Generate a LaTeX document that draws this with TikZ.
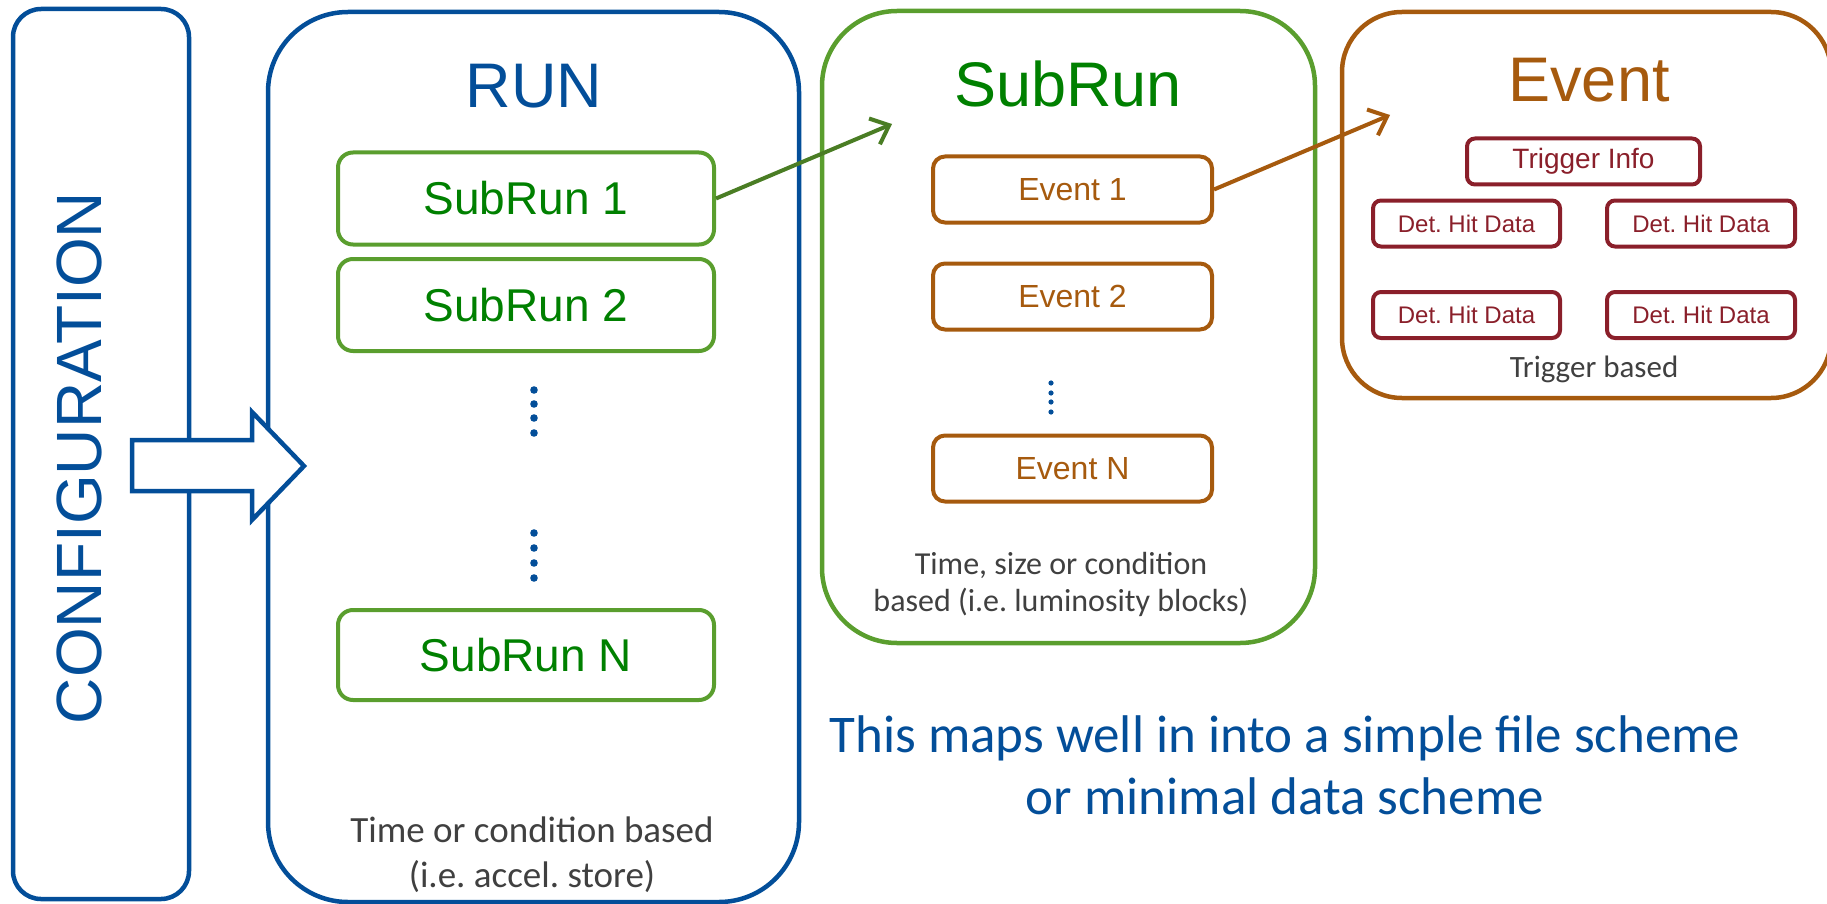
\documentclass[tikz,border=0pt]{standalone}
\usepackage{fontspec}
\setmainfont{Liberation Sans}
\newfontfamily\calibri{Carlito}
\usetikzlibrary{arrows.meta}
\frenchspacing

\definecolor{runblue}{HTML}{034E99}
\definecolor{subgreen}{HTML}{5A9E2E}
\definecolor{arrowgreen}{HTML}{4A7D24}
\definecolor{textgreen}{HTML}{008000}
\definecolor{evbrown}{HTML}{A65A0E}
\definecolor{hitred}{HTML}{8A1F2A}
\definecolor{capgray}{HTML}{404040}

\tikzset{
  bigbox/.style={draw, line width=4.5pt, rounded corners=#1, inner sep=0pt},
  title/.style={anchor=base, font=\fontsize{63}{63}\selectfont},
  subbox/.style={draw=subgreen, line width=4pt, rounded corners=15pt,
    minimum width=376pt, minimum height=92pt, text=textgreen,
    font=\fontsize{46}{46}\selectfont},
  evbox/.style={draw=evbrown, line width=4pt, rounded corners=12pt,
    minimum width=279pt, minimum height=66pt, text=evbrown,
    font=\fontsize{32}{32}\selectfont},
  hitbox/.style={draw=hitred, line width=4pt, rounded corners=8pt,
    minimum height=46pt, text=hitred, font=\fontsize{24}{24}\selectfont},
  caption/.style={text=capgray, align=center},
  link/.style={line width=4pt, -{Straight Barb[length=16pt,width=28pt]}}
}

\begin{document}
\begin{tikzpicture}[x=1pt,y=-1pt]
\useasboundingbox (0,0) rectangle (1827,904);

% configuration
\node[bigbox=28pt, draw=runblue, minimum width=176pt, minimum height=890pt] (config) at (101,454) {};
\node[rotate=90, text=runblue, font=\fontsize{64}{64}\selectfont] (configtext) at (79,458) {CONFIGURATION};

% run
\node[bigbox=80pt, draw=runblue, minimum width=531pt, minimum height=890pt] (run) at (533.5,457) {};
\node[title, text=runblue] (runtitle) at (534,108) {RUN};
\node[subbox] (sr1) at (526,198.5) {SubRun 1};
\node[subbox] (sr2) at (526,305) {SubRun 2};
\node[subbox, minimum height=90pt] (srn) at (526,655) {SubRun N};
\foreach \y in {390,404,418,433,533,548,563,578}
  \fill[runblue] (534,\y) circle (3.8pt);
\node[caption, font=\calibri\fontsize{37}{45}\selectfont] (runcap) at (532,855)
  {Time or condition based\\(i.e. accel. store)};

% configuration arrow
\draw[runblue, line width=4.5pt, fill=white, line join=miter]
  (132,440) -- (252,440) -- (252,412) -- (304,466) -- (252,520) -- (252,491) -- (132,491) -- cycle;

% subrun
\node[bigbox=75pt, draw=subgreen, minimum width=493pt, minimum height=632pt] (subrun) at (1068.5,327) {};
\node[title, text=textgreen] (subtitle) at (1068,107) {SubRun};
\node[evbox] (ev1) at (1072.5,189.5) {Event 1};
\node[evbox] (ev2) at (1072.5,296.5) {Event 2};
\node[evbox] (evn) at (1072.5,468.5) {Event N};
\foreach \y in {383,393,402,412}
  \fill[runblue] (1051,\y) circle (2.6pt);
\node[caption, font=\calibri\fontsize{32}{37}\selectfont] (subcap) at (1061,584)
  {Time, size or condition\\based (i.e. luminosity blocks)};

% event
\node[bigbox=60pt, draw=evbrown, minimum width=489pt, minimum height=386pt] (event) at (1586.5,205) {};
\node[title, text=evbrown] (evtitle) at (1589,102) {Event};
\node[hitbox, minimum width=233pt, font=\fontsize{28}{28}\selectfont] (trig) at (1583.5,161.5) {Trigger Info};
\node[hitbox, minimum width=187pt] (hit1) at (1466.5,223.5) {Det. Hit Data};
\node[hitbox, minimum width=188pt] (hit2) at (1701,223.5) {Det. Hit Data};
\node[hitbox, minimum width=187pt] (hit3) at (1466.5,315) {Det. Hit Data};
\node[hitbox, minimum width=188pt] (hit4) at (1701,315) {Det. Hit Data};
\node[caption, font=\calibri\fontsize{31}{31}\selectfont] (evcap) at (1594,369) {Trigger based};

% links
\coordinate (srtip) at (892,124);
\coordinate (evtip) at (1390,115);
\draw[link, arrowgreen] (sr1.east) -- (srtip);
\draw[link, evbrown] (ev1.east) -- (evtip);

% note
\node[text=runblue, align=center, font=\calibri\fontsize{53}{62}\selectfont] (note) at (1285,765)
  {This maps well in into a simple file scheme\\or minimal data scheme};
\end{tikzpicture}
\end{document}
